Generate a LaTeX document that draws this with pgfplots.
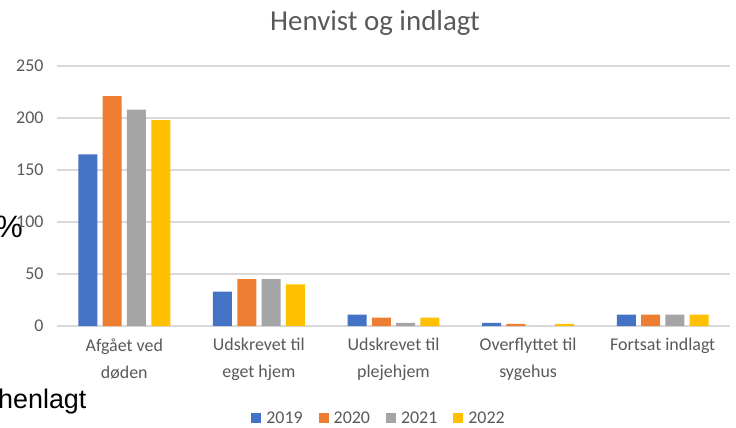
\documentclass[border=0pt]{standalone}
\usepackage{fontspec}
\setmainfont{Carlito}
\newfontfamily\arialfont{Liberation Sans}
\usepackage{pgfplots}
\pgfplotsset{compat=1.18}
\definecolor{c19}{HTML}{4472C4}
\definecolor{c20}{HTML}{ED7D31}
\definecolor{c21}{HTML}{A5A5A5}
\definecolor{c22}{HTML}{FFC000}
\definecolor{txt}{HTML}{595959}
\definecolor{grd}{HTML}{D9D9D9}
\pgfplotsset{lg/.style={legend image code/.code={\fill[##1] (0bp,-5bp) rectangle (10bp,5bp); \path (13bp,0bp);}}}
\begin{document}
\begin{tikzpicture}[x=1bp,y=1bp]
\path[use as bounding box] (0,0) rectangle (736,427);
\clip (0,0) rectangle (736,427);
\node[font=\arialfont\fontsize{31}{36}\selectfont, anchor=base east, inner sep=0pt] at (23,190) {\%};
\node[font=\arialfont\fontsize{27}{32}\selectfont, anchor=base west, inner sep=0pt] at (-2,19) {henlagt};
\node[font=\fontsize{29}{34}\selectfont, text=txt] at (375,404) {Henvist og indlagt};
\begin{axis}[
  at={(57bp,101bp)}, anchor=south west, scale only axis,
  width=673bp, height=260bp,
  ymin=0, ymax=250, ytick={0,50,...,250},
  xmin=-0.5, xmax=4.5, xtick={0,...,4},
  xticklabels={{Afgået ved\\døden},{Udskrevet til\\eget hjem},{Udskrevet til\\plejehjem},{Overflyttet til\\sygehus},{Fortsat indlagt}},
  ybar=5.3bp, bar width=19bp,
  axis line style={draw=none},
  major tick length=0pt,
  ymajorgrids, grid style={draw=grd, line width=1.3bp},
  /pgf/number format/assume math mode=true,
  tick label style={font=\fontsize{18}{27}\selectfont, text=txt},
  x tick label style={align=center, yshift=-9bp},
  y tick label style={xshift=-10bp},
  legend columns=4,
  legend style={draw=none, fill=none, at={(0.4785,-0.354)}, anchor=center,
    font=\fontsize{18}{20}\selectfont, text=txt,
    /tikz/every even column/.append style={column sep=14bp}},
]
\addplot[fill=c19, draw=none, lg] coordinates {(0,165) (1,33) (2,11) (3,3) (4,11)};
\addplot[fill=c20, draw=none, lg] coordinates {(0,221) (1,45) (2,8) (3,2) (4,11)};
\addplot[fill=c21, draw=none, lg] coordinates {(0,208) (1,45) (2,3) (3,0) (4,11)};
\addplot[fill=c22, draw=none, lg] coordinates {(0,198) (1,40) (2,8) (3,2) (4,11)};
\legend{2019,2020,2021,2022}
\end{axis}
\end{tikzpicture}
\end{document}
